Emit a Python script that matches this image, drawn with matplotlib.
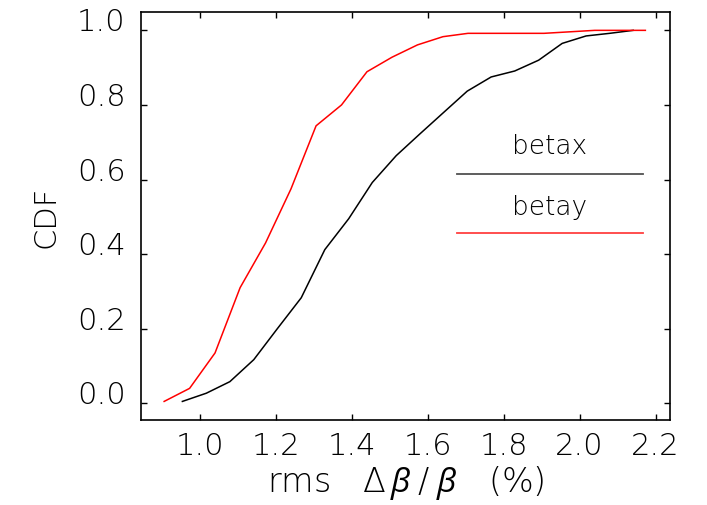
import numpy as np
import matplotlib
matplotlib.use('Agg')
import matplotlib.pyplot as plt

# cumulative distributions of the rms beta-beat
betax_rms = [0.954, 1.017, 1.079, 1.142, 1.204, 1.267, 1.329, 1.392, 1.454, 1.517,
             1.579, 1.642, 1.704, 1.767, 1.829, 1.892, 1.954, 2.017, 2.079, 2.141]
betax_cdf = [0.005, 0.027, 0.058, 0.117, 0.200, 0.283, 0.412, 0.495, 0.592, 0.664,
             0.722, 0.780, 0.837, 0.875, 0.891, 0.920, 0.965, 0.985, 0.992, 1.000]

betay_rms = [0.906, 0.973, 1.040, 1.106, 1.173, 1.240, 1.306, 1.373, 1.440, 1.506,
             1.573, 1.640, 1.706, 1.773, 1.840, 1.906, 1.973, 2.040, 2.106, 2.173]
betay_cdf = [0.005, 0.040, 0.135, 0.310, 0.430, 0.575, 0.744, 0.800, 0.889, 0.928,
             0.961, 0.983, 0.992, 0.992, 0.992, 0.992, 0.996, 1.000, 1.000, 1.000]

xticks = [1.0, 1.2, 1.4, 1.6, 1.8, 2.0, 2.2]
yticks = [0.0, 0.2, 0.4, 0.6, 0.8, 1.0]

plt.rcParams['font.family'] = 'DejaVu Sans'
plt.rcParams['font.weight'] = 'light'
plt.rcParams['mathtext.fontset'] = 'custom'
plt.rcParams['mathtext.rm'] = 'DejaVu Sans:light'
plt.rcParams['mathtext.it'] = 'Open Sans:italic:normal'

fig = plt.figure(figsize=(7.07, 5.06), dpi=100)
ax = fig.add_axes([0.1994, 0.1674, 0.9472 - 0.1994, 0.9749 - 0.1674])

ax.plot(betax_rms, betax_cdf, color='black', lw=1.1)
ax.plot(betay_rms, betay_cdf, color='red', lw=1.1)

# hand-made legend: label above a short line segment
ax.text(1.921, 0.69, 'betax', fontsize=19, ha='center', va='center')
ax.plot([1.677, 2.168], [0.615, 0.615], color='#505050', lw=1.3)
ax.text(1.921, 0.529, 'betay', fontsize=19, ha='center', va='center')
ax.plot([1.677, 2.168], [0.457, 0.457], color='#ff4040', lw=1.3)

ax.set_xlim(0.845, 2.237)
ax.set_ylim(-0.0456, 1.05)
ax.set_xticks(xticks)
ax.set_yticks(yticks)
ax.set_xticklabels([f'{v:.1f}' for v in xticks])
ax.set_yticklabels([f'{v:.1f}' for v in yticks])
ax.tick_params(direction='in', length=4, width=1, labelsize=22,
               top=True, right=True)
ax.tick_params(axis='x', pad=8)
ax.tick_params(axis='y', pad=11)
for lab in ax.get_yticklabels():
    lab.set_va('baseline')
for s in ax.spines.values():
    s.set_linewidth(1.2)

ax.set_xlabel('rms   $\\Delta\\,\\beta\\;/\\;\\beta$   (%)', fontsize=24,
              fontweight='light', labelpad=2)
ax.set_ylabel('CDF', fontsize=22, fontweight='light', labelpad=12)

fig.savefig('out.png', dpi=100)
